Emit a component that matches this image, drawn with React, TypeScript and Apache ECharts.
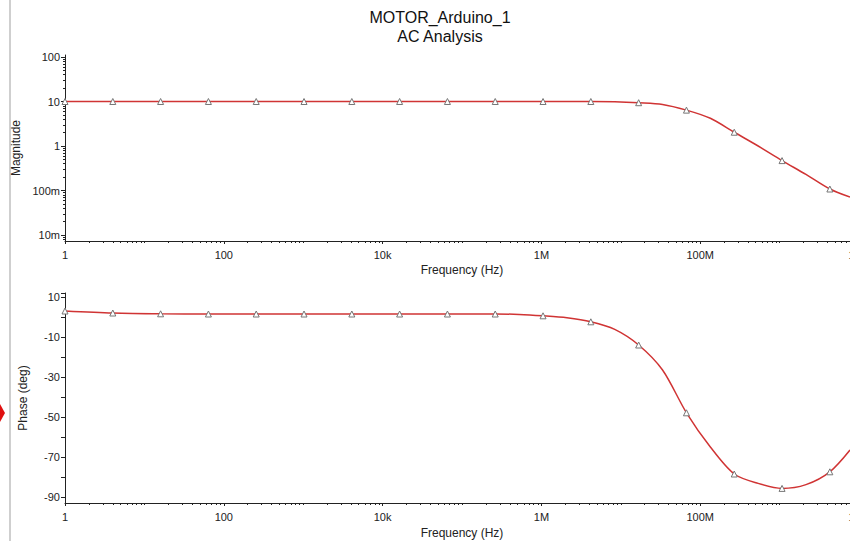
import React, { useEffect, useRef } from "react";
import * as echarts from "echarts";

const TITLE = "MOTOR_Arduino_1";
const SUBTITLE = "AC Analysis";
const X_NAME = "Frequency (Hz)";
const MAG_NAME = "Magnitude";
const PHASE_NAME = "Phase (deg)";

// Frequencies (Hz); markers sit every factor of 4,
// extra read points sit half-way between markers in the bend regions.
const freqHz = [
  1, 4, 16, 64, 256, 1024, 4096, 16384, 65536, 262144, 524288, 1048576,
  2097152, 4194304, 8388608, 16777216, 33554432, 67108864, 134217728,
  268435456, 536870912, 1073741824, 2147483648, 4294967296, 7.7e9,
];
const isMarker = [
  1, 1, 1, 1, 1, 1, 1, 1, 1, 1, 0, 1,
  0, 1, 0, 1, 0, 1, 0,
  1, 0, 1, 0, 1, 0,
];
const magnitude = [
  10, 10, 10, 10, 10, 10, 10, 10, 10, 10, 10, 10,
  10, 10, 9.9, 9.4, 8.6, 6.4, 4.2,
  2.04, 1.0, 0.47, 0.23, 0.108, 0.071,
];
const phaseDeg = [
  3.0, 2.0, 1.6, 1.5, 1.5, 1.5, 1.5, 1.5, 1.5, 1.5, 1.3, 0.6,
  -0.4, -2.4, -6.2, -14, -26.5, -47.9, -65,
  -78.5, -83.2, -85.7, -83.8, -77.4, -66.5,
];

const phaseLabelValues = [-90, -70, -50, -30, -10, 10];
const phaseTickValues = [-90, -80, -70, -60, -50, -40, -30, -20, -10, 0, 10, 12];
const minorMultipliers = [1, 2, 3, 4, 5, 6, 7, 8, 9];

const F_MIN = 1;
const F_MAX = 1e10;
const MAG_MIN = 0.00733;
const MAG_MAX = 111;
const PH_MIN = -93;
const PH_MAX = 12;

const FONT = "'Liberation Sans', Arial, sans-serif";
const LINE_COLOR = "#d03434";
const AXIS_COLOR = "#222";

function fmtFreq(v: number): string {
  const r = Math.round(v);
  if (r >= 1e9) return r / 1e9 + "G";
  if (r >= 1e6) return r / 1e6 + "M";
  if (r >= 1e3) return r / 1e3 + "k";
  return String(r);
}
function fmtMag(v: number): string {
  const l = Math.log10(v);
  if (Math.abs(l - Math.round(l)) > 1e-6) return "";
  const p = Math.round(l);
  if (p < 0) return Math.round(Math.pow(10, p + 3)) + "m";
  return String(Math.round(Math.pow(10, p)));
}

function minorLogTicks(d0: number, d1: number): number[] {
  const out: number[] = [];
  for (let d = d0; d <= d1; d++) {
    for (const m of minorMultipliers) out.push(d + Math.log10(m));
  }
  return out;
}

export default function App() {
  const ref = useRef<HTMLDivElement>(null);
  useEffect(() => {
    if (!ref.current) return;
    const chart = echarts.init(ref.current, undefined, { renderer: "svg" });

    const mkData = (vals: number[]) =>
      freqHz.map((f, i) =>
        isMarker[i] ? [f, vals[i]] : { value: [f, vals[i]], symbol: "none" }
      );

    const labelStyle = { color: "#222", fontSize: 11, fontFamily: FONT };
    const nameStyle = { color: "#222", fontSize: 12, fontFamily: FONT };
    const axisLine = { show: true, onZero: false, lineStyle: { color: AXIS_COLOR, width: 1 } };

    const grid0 = { left: 65, right: -9, top: 55, height: 186, outerBoundsMode: "none" };
    const grid1 = { left: 65, right: -9, top: 293, height: 210, outerBoundsMode: "none" };

    const freqAxis = (gridIndex: number, gap: number) => ({
      type: "log",
      logBase: 100,
      gridIndex,
      position: "bottom",
      min: F_MIN,
      max: F_MAX,
      name: X_NAME,
      nameLocation: "middle",
      nameGap: gap,
      nameTextStyle: nameStyle,
      axisLine,
      axisTick: { show: true, length: 3, lineStyle: { color: AXIS_COLOR } },
      axisLabel: { ...labelStyle, margin: 8, formatter: fmtFreq, showMaxLabel: true, hideOverlap: false },
      splitLine: { show: false },
      minorTick: { show: false },
    });
    const minorXAxis = (gridIndex: number) => ({
      type: "value",
      gridIndex,
      position: "bottom",
      min: 0,
      max: 10,
      axisLine: { show: false, onZero: false },
      axisLabel: { show: false },
      splitLine: { show: false },
      axisTick: {
        show: true,
        length: 2,
        customValues: minorLogTicks(0, 9),
        lineStyle: { color: AXIS_COLOR },
      },
    });

    const lineSeries = (name: string, idx: number, vals: number[]) => ({
      name,
      type: "line",
      xAxisIndex: idx,
      yAxisIndex: idx,
      data: mkData(vals),
      smooth: 0.3,
      symbol: "triangle",
      symbolSize: 6,
      showAllSymbol: true,
      lineStyle: { color: LINE_COLOR, width: 1.5 },
      itemStyle: { color: "#fff", borderColor: "#777", borderWidth: 1 },
      z: 5,
    });

    const option: any = {
      animation: false,
      backgroundColor: "#fff",
      title: {
        text: TITLE + "\n" + SUBTITLE,
        left: 435,
        top: 3,
        textAlign: "center",
        textStyle: {
          fontSize: 16,
          fontWeight: "normal",
          color: "#111",
          fontFamily: FONT,
          lineHeight: 19,
        },
      },
      grid: [grid0, grid1, { ...grid0 }, { ...grid1 }],
      xAxis: [freqAxis(0, 23), freqAxis(1, 24), minorXAxis(2), minorXAxis(3)],
      yAxis: [
        {
          type: "log",
          logBase: 10,
          gridIndex: 0,
          position: "left",
          min: MAG_MIN,
          max: MAG_MAX,
          name: MAG_NAME,
          nameLocation: "middle",
          nameGap: 36,
          nameTextStyle: nameStyle,
          axisLine,
          axisTick: { show: true, length: 4, lineStyle: { color: AXIS_COLOR } },
          axisLabel: { ...labelStyle, margin: 5, formatter: fmtMag, showMinLabel: false, showMaxLabel: false },
          splitLine: { show: false },
          minorTick: { show: false },
        },
        {
          type: "value",
          gridIndex: 1,
          position: "left",
          min: PH_MIN,
          max: PH_MAX,
          name: PHASE_NAME,
          nameLocation: "middle",
          nameGap: 36,
          nameTextStyle: nameStyle,
          axisLine,
          axisTick: { show: true, length: 4, customValues: phaseTickValues, lineStyle: { color: AXIS_COLOR } },
          axisLabel: { ...labelStyle, margin: 5, customValues: phaseLabelValues },
          splitLine: { show: false },
        },
        {
          type: "value",
          gridIndex: 2,
          position: "left",
          min: Math.log10(MAG_MIN),
          max: Math.log10(MAG_MAX),
          axisLine: { show: false, onZero: false },
          axisLabel: { show: false },
          splitLine: { show: false },
          axisTick: {
            show: true,
            length: 2,
            customValues: minorLogTicks(-3, 2),
            lineStyle: { color: AXIS_COLOR },
          },
        },
        {
          type: "value",
          gridIndex: 3,
          position: "left",
          min: 0,
          max: 1,
          axisLine: { show: false, onZero: false },
          axisLabel: { show: false },
          axisTick: { show: false },
          splitLine: { show: false },
        },
      ],
      series: [
        lineSeries(MAG_NAME, 0, magnitude),
        lineSeries(PHASE_NAME, 1, phaseDeg),
      ],
      graphic: [
        {
          type: "line",
          shape: { x1: 10, y1: 0, x2: 10, y2: 541 },
          style: { stroke: "#cfcfcf", lineWidth: 2 },
        },
        {
          type: "polygon",
          shape: { points: [[0, 404], [5, 413], [0, 422]] },
          style: { fill: "#e01010" },
        },
      ],
    };
    chart.setOption(option);
    return () => chart.dispose();
  }, []);

  return (
    <div
      ref={ref}
      style={{ position: "fixed", left: 0, top: 0, width: 850, height: 541, background: "#fff" }}
    />
  );
}
